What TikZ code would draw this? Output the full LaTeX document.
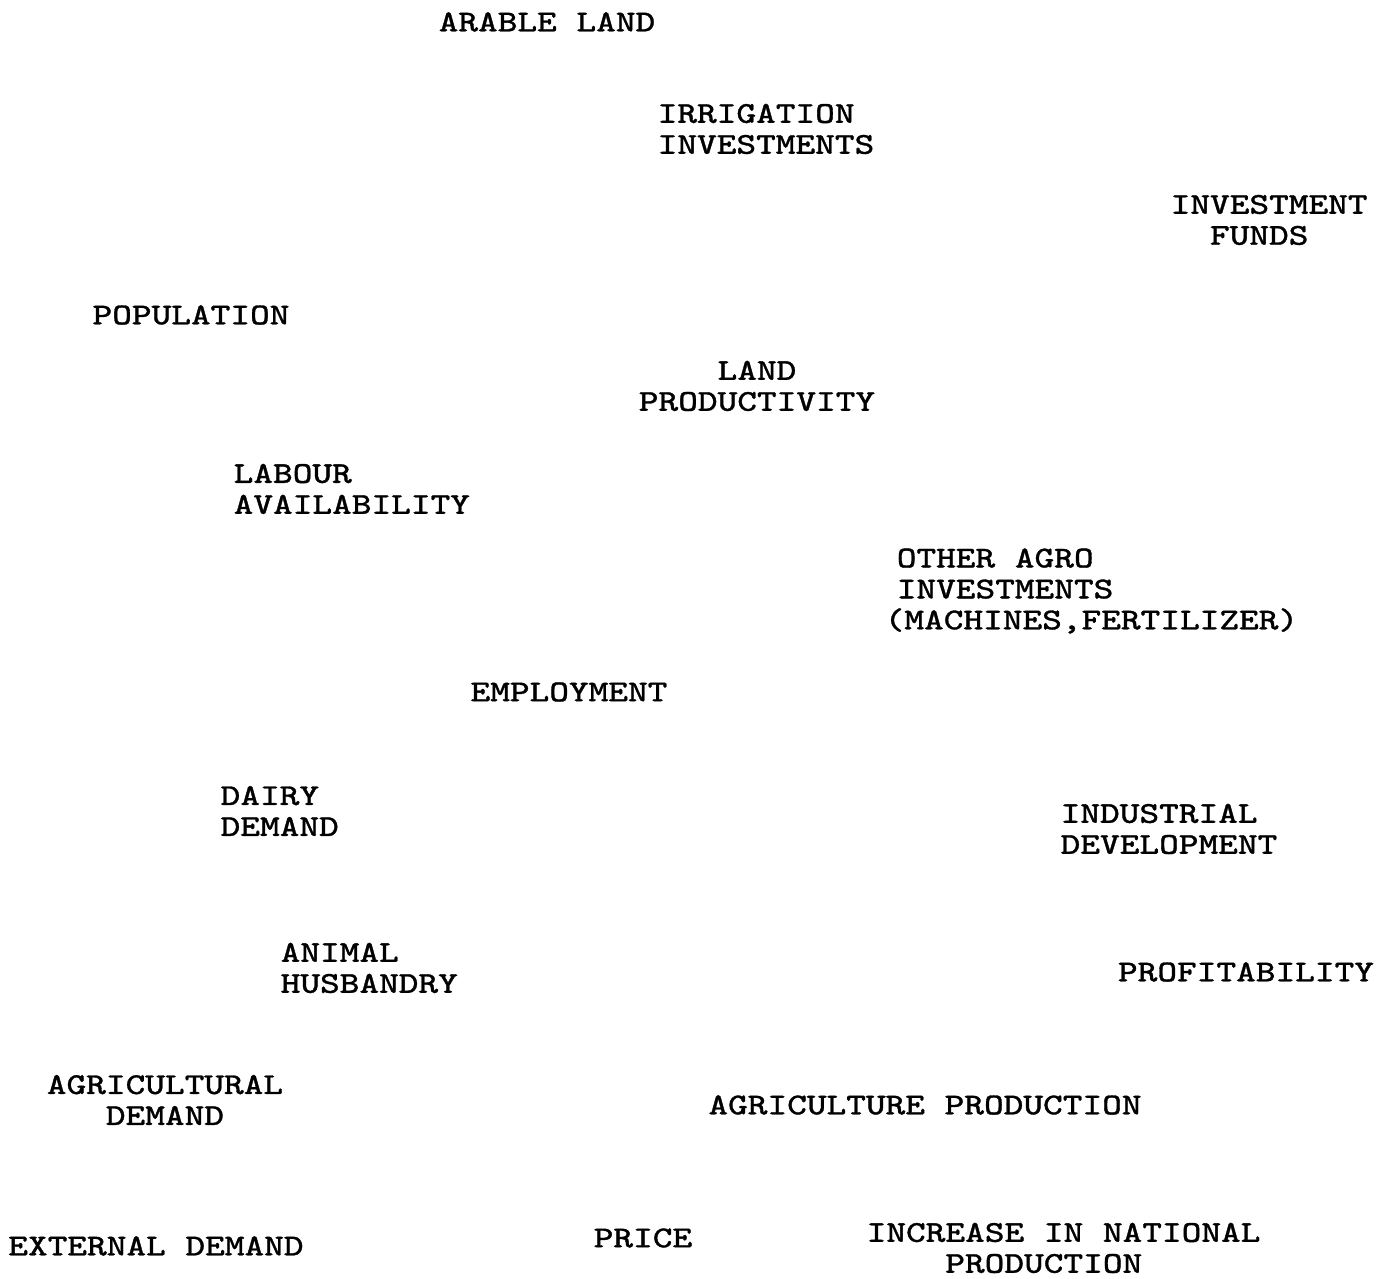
\documentclass[tikz,border=0pt]{standalone}
\usepackage{fontspec}
\setmonofont[FakeStretch=1.24, FakeBold=1.1]{Latin Modern Mono}
\usepackage{tikz}

\tikzset{
  lbl/.style={font=\ttfamily\fontsize{8.6}{8.8}\selectfont, inner sep=0pt},
  lblleft/.style={lbl, align=left, anchor=west},
  lblmid/.style={lbl, align=center}
}

\begin{document}
\begin{tikzpicture}[x=0.01cm, y=-0.01cm]
                    \useasboundingbox (0,0) rectangle (1390,1279);
                    % top row
                    \node (arable) at (547,22) [lblmid] {ARABLE LAND};
                    \node (irrig) at (657,129) [lblleft] {IRRIGATION\\INVESTMENTS};
                    \node (funds) at (1170,220) [lblleft] {INVESTMENT\\\hspace*{1.3em}FUNDS};
                    \node (popul) at (191,315) [lblmid] {POPULATION};
                    \node (landprod) at (757,386) [lblmid] {LAND\\PRODUCTIVITY};
                    \node (labour) at (233,489) [lblleft] {LABOUR\\AVAILABILITY};
                    \node (otheragro) at (884,591) [lblleft] {\hspace*{0.4em}OTHER AGRO\\\hspace*{0.4em}INVESTMENTS\\(MACHINES,FERTILIZER)};
                    % middle
                    \node (employ) at (569,692) [lblmid] {EMPLOYMENT};
                    \node (dairy) at (220,811) [lblleft] {DAIRY\\DEMAND};
                    \node (industry) at (1060,829) [lblleft] {INDUSTRIAL\\DEVELOPMENT};
                    \node (animal) at (280,968) [lblleft] {ANIMAL\\HUSBANDRY};
                    \node (profit) at (1246,972) [lblmid] {PROFITABILITY};
                    % bottom row
                    \node (agrdemand) at (165,1100) [lblmid] {AGRICULTURAL\\DEMAND};
                    \node (agrprod) at (925,1105) [lblmid] {AGRICULTURE PRODUCTION};
                    \node (extdemand) at (156,1246) [lblmid] {EXTERNAL DEMAND};
                    \node (price) at (643,1238) [lblmid] {PRICE};
                    \node (natprod) at (866,1248) [lblleft] {INCREASE IN NATIONAL\\\hspace*{2.6em}PRODUCTION};
                \end{tikzpicture}
\end{document}
